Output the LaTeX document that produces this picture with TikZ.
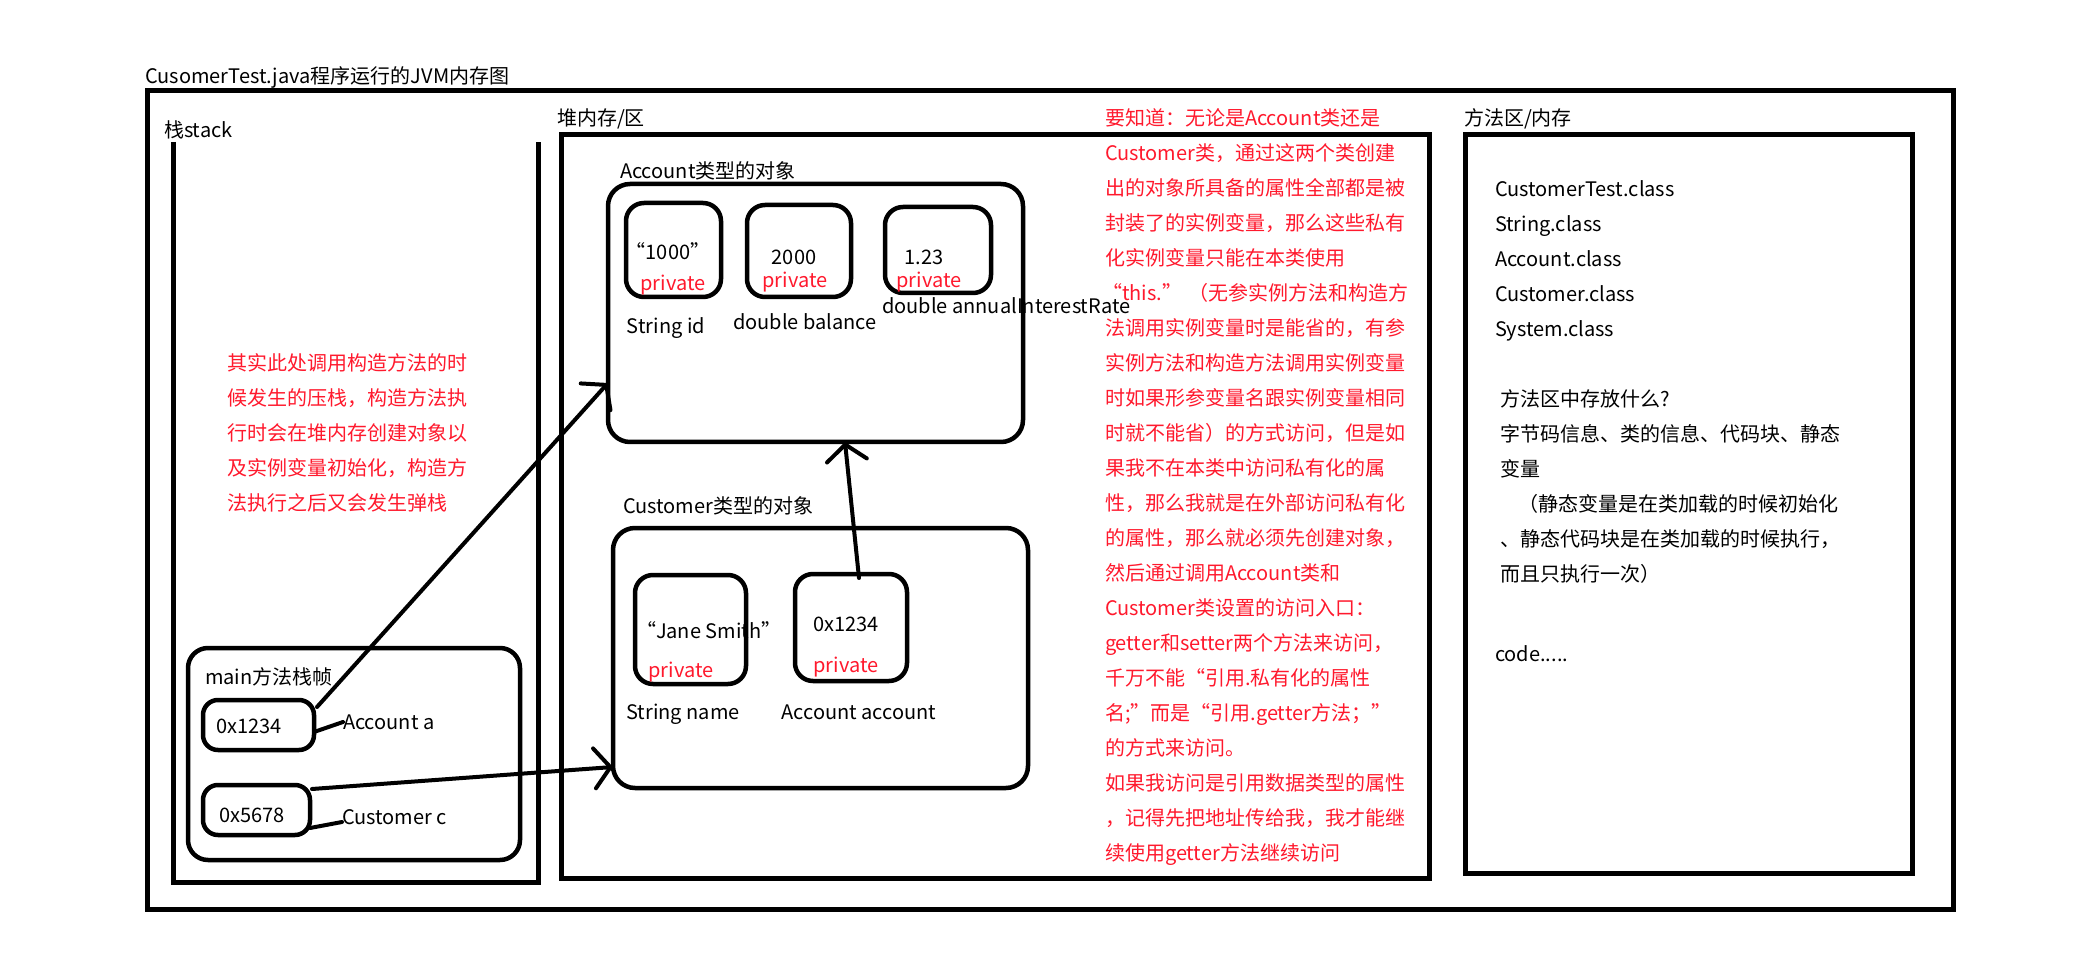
\documentclass[tikz,border=0pt]{standalone}
\usepackage{fontspec}
\setmainfont{Noto Sans CJK SC}
\usetikzlibrary{arrows.meta}
\definecolor{notered}{RGB}{255,25,45}
\begin{document}
\begin{tikzpicture}[x=1pt,y=-1pt,
  txt/.style={inner sep=0pt, outer sep=0pt, font=\fontsize{20}{24}\selectfont, text height=19pt, text depth=4pt},
  note/.style={txt, text=notered},
  frame/.style={draw, line width=5pt, inner sep=0pt, outer sep=0pt},
  box/.style={draw, line width=4.5pt, rounded corners=18pt, inner sep=0pt, outer sep=0pt},
  link/.style={line width=4pt, line cap=round},
  ptr/.style={link, -{Straight Barb[length=16pt,width=40pt,line cap=round]}}]

% canvas
\fill[white] (0,0) rectangle (2089,957);
\path[use as bounding box] (0,0) rectangle (2089,957);

% title and outer frame
\node[txt, anchor=west] (title) at (145,76) {CusomerTest.java程序运行的JVM内存图};
\node[frame, minimum width=1806pt, minimum height=818pt] (jvm) at (1050,500) {};

% stack area (open at the top)
\node[txt, anchor=west] (stacklbl) at (164,130) {栈stack};
\draw[line width=5pt] (173,142) -- (173,882) -- (538,882) -- (538,142);

\foreach \s [count=\i] in {{其实此处调用构造方法的时},{候发生的压栈，构造方法执},{行时会在堆内存创建对象以},{及实例变量初始化，构造方},{法执行之后又会发生弹栈}}
  \node[note, anchor=west] (stacknote\i) at (227,{363+35*(\i-1)}) {\s};

% main frame
\node[box, rounded corners=20pt, minimum width=332pt, minimum height=212pt] (mainframe) at (354,754) {};
\node[txt, anchor=west] (mainlbl) at (205,677) {main方法栈帧};
\node[box, rounded corners=15pt, minimum width=111pt, minimum height=50pt] (abox) at (258.5,725) {};
\node[txt] (aval) at (249,726) {0x1234};
\node[box, rounded corners=15pt, minimum width=107pt, minimum height=50pt] (cbox) at (256.5,810) {};
\node[txt] (cval) at (252,815) {0x5678};
\node[txt, anchor=west] (lblA) at (343,722) {Account a};
\node[txt, anchor=west] (lblC) at (342,817) {Customer c};

% heap area
\node[txt, anchor=west] (heaplbl) at (557,118) {堆内存/区};
\node[frame, minimum width=868pt, minimum height=743pt] (heap) at (995,506.5) {};

% Account object
\node[txt, anchor=west] (acctlbl) at (620,171) {Account类型的对象};
\node[box, rounded corners=22pt, minimum width=415pt, minimum height=258pt] (acct) at (815.5,313) {};
\node[box, minimum width=95pt, minimum height=94pt] (f1) at (673.5,250) {};
\node[box, minimum width=104pt, minimum height=92pt] (f2) at (799,251) {};
\node[box, minimum width=106pt, minimum height=86pt] (f3) at (938,250) {};
\node[txt] (v1) at (668,252) {“1000”};
\node[note] (p1) at (673,283) {private};
\node[txt] (v2) at (794,257) {2000};
\node[note] (p2) at (795,280) {private};
\node[txt] (v3) at (924,257) {1.23};
\node[note] (p3) at (929,280) {private};
\node[txt] (n1) at (666,326) {String id};
\node[txt] (n2) at (805,322) {double balance};
\node[txt, anchor=west] (n3) at (882,306) {double annualInterestRate};

% Customer object
\node[txt, anchor=west] (custlbl) at (623,506) {Customer类型的对象};
\node[box, rounded corners=22pt, minimum width=415pt, minimum height=260pt] (cust) at (820.5,658) {};
\node[box, minimum width=111pt, minimum height=109pt] (namebox) at (690.5,629.5) {};
\node[box, minimum width=112pt, minimum height=107pt] (acctbox) at (851,627.5) {};
\node[txt, anchor=west] (nameval) at (636,631) {“Jane Smith”};
\node[note] (p4) at (681,670) {private};
\node[txt] (acctval) at (846,624) {0x1234};
\node[note] (p5) at (846,665) {private};
\node[txt] (n4) at (683,712) {String name};
\node[txt] (n5) at (859,712) {Account account};

% references
\draw[link] ([yshift=-7pt]abox.east) -- (lblA.west);
\draw[link] ([yshift=-18pt]cbox.east) -- ([yshift=-5pt]lblC.west);
\draw[ptr] ([xshift=3pt,yshift=-7pt]abox.north east) -- ([yshift=-70pt]acct.west);
\draw[ptr] ([xshift=2pt,yshift=-4pt]cbox.north east) -- ([yshift=-109pt]cust.west);
\draw[ptr] ([xshift=8pt,yshift=-4pt]acctbox.north) -- ([xshift=29.5pt]acct.south);

% encapsulation notes
\foreach \s [count=\i] in {{要知道：无论是Account类还是},{Customer类，通过这两个类创建},{出的对象所具备的属性全部都是被},{封装了的实例变量，那么这些私有},{化实例变量只能在本类使用},{\hspace*{-3pt}“this.”\hspace{6pt}（无参实例方法和构造方},{法调用实例变量时是能省的，有参},{实例方法和构造方法调用实例变量},{时如果形参变量名跟实例变量相同},{时就不能省）的方式访问，但是如},{果我不在本类中访问私有化的属},{性，那么我就是在外部访问私有化},{的属性，那么就必须先创建对象，},{然后通过调用Account类和},{Customer类设置的访问入口：},{getter和setter两个方法来访问，},{千万不能“引用.私有化的属性},{名;”而是“引用.getter方法；”},{的方式来访问。},{如果我访问是引用数据类型的属性},{，记得先把地址传给我，我才能继},{续使用getter方法继续访问}}
  \node[note, anchor=west] (heapnote\i) at (1105,{118+35*(\i-1)}) {\s};

% method area
\node[txt, anchor=west] (methlbl) at (1464,118) {方法区/内存};
\node[frame, minimum width=447pt, minimum height=738pt] (meth) at (1688.5,504) {};
\foreach \s [count=\i] in {CustomerTest.class,String.class,Account.class,Customer.class,System.class}
  \node[txt, anchor=west] (cls\i) at (1495,{189.5+35*(\i-1)}) {\s};
\foreach \s [count=\i] in {{方法区中存放什么?},{字节码信息、类的信息、代码块、静态},{变量},{\hspace*{18pt}（静态变量是在类加载的时候初始化},{、静态代码块是在类加载的时候执行，},{而且只执行一次）}}
  \node[txt, anchor=west] (methnote\i) at (1500,{399+35*(\i-1)}) {\s};
\node[txt, anchor=west] (code) at (1495,654) {code.....};

\end{tikzpicture}
\end{document}
